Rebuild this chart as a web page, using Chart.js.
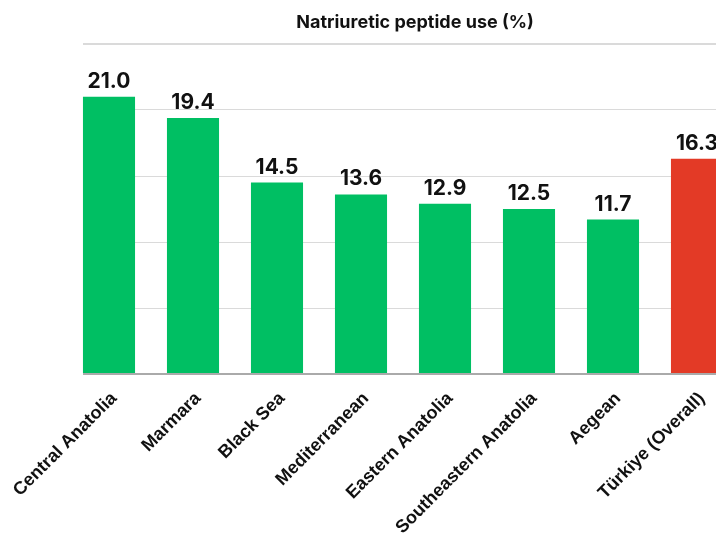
<!DOCTYPE html>
<html>
<head>
<meta charset="utf-8">
<script src="https://cdn.jsdelivr.net/npm/chart.js@4"></script>
<style>
    html, body { margin: 0; padding: 0; background: #fff; overflow: hidden; }
    #wrap { position: relative; width: 739px; height: 533px; }
</style>
</head>
<body>
<div id="wrap"><canvas id="chart"></canvas></div>
<script>
// chart data
const regions = ['Central Anatolia', 'Marmara', 'Black Sea', 'Mediterranean',
    'Eastern Anatolia', 'Southeastern Anatolia', 'Aegean', 'Türkiye (Overall)'];
const usePercent = [21.0, 19.4, 14.5, 13.6, 12.9, 12.5, 11.7, 16.3];
const chartTitle = 'Natriuretic peptide use (%)';

const GREEN = '#00bf63';
const RED = '#e33a26';
const barColors = regions.map((r, i) => i === regions.length - 1 ? RED : GREEN);

// title + value labels + trim grid start to first bar
const decorPlugin = {
    id: 'decor',
    beforeDatasetsDraw(chart) {
        const { ctx, chartArea } = chart;
        ctx.save();
        ctx.fillStyle = '#fff';
        ctx.fillRect(chartArea.left - 2, chartArea.top - 3, 18, chartArea.bottom - chartArea.top + 6);
        ctx.restore();
    },
    afterDatasetsDraw(chart) {
        const { ctx } = chart;
        const meta = chart.getDatasetMeta(0);
        ctx.save();
        ctx.fillStyle = '#111';
        ctx.textAlign = 'center';
        ctx.textBaseline = 'alphabetic';
        ctx.font = 'bold 21px Inter';
        meta.data.forEach((bar, i) => {
            ctx.fillText(usePercent[i].toFixed(1), bar.x, bar.y - 9);
        });
        ctx.font = 'bold 18px Inter';
        ctx.fillText(chartTitle, 415, 28);
        ctx.restore();
    }
};

new Chart(document.getElementById('chart'), {
    type: 'bar',
    data: {
        labels: regions,
        datasets: [{
            data: usePercent,
            backgroundColor: barColors,
            borderWidth: 0,
            categoryPercentage: 1,
            barPercentage: 0.62
        }]
    },
    options: {
        responsive: true,
        maintainAspectRatio: false,
        animation: false,
        layout: { padding: { top: 44, left: 0, right: 0, bottom: 0 } },
        plugins: {
            legend: { display: false },
            tooltip: { enabled: false }
        },
        scales: {
            x: {
                grid: { display: false },
                border: { display: false },
                ticks: {
                    color: '#111',
                    font: { family: 'Liberation Sans', size: 18, weight: 'bold' },
                    maxRotation: 45,
                    minRotation: 45,
                    padding: 6,
                    labelOffset: 5
                },
                afterFit(scale) { scale.height = 159; }
            },
            y: {
                min: 0,
                max: 25,
                ticks: { display: false, stepSize: 5 },
                border: { display: false },
                grid: {
                    drawTicks: false,
                    color: c => c.tick.value === 0 ? '#aaaaaa' : '#dadada',
                    lineWidth: c => (c.tick.value === 0 || c.tick.value === 25) ? 2 : 1
                },
                afterFit(scale) { scale.width = 67; }
            }
        }
    },
    plugins: [decorPlugin]
});
</script>
</body>
</html>
